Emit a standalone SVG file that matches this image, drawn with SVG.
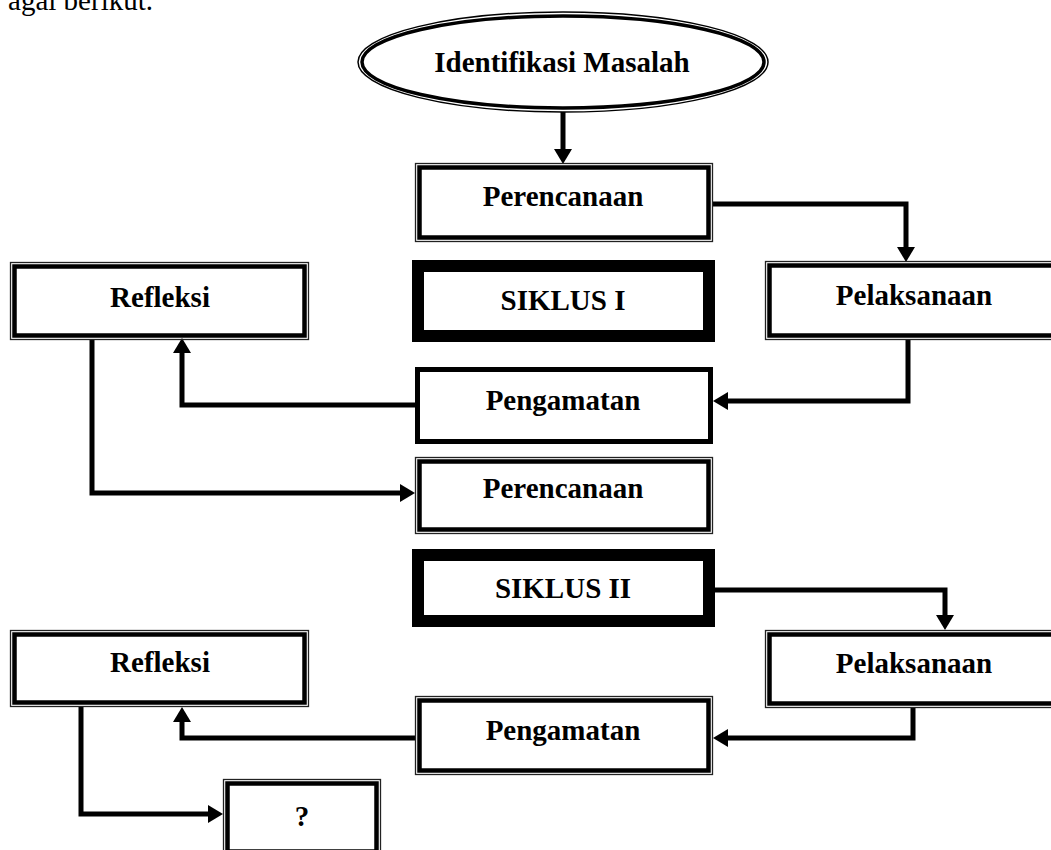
<svg xmlns="http://www.w3.org/2000/svg" width="1051" height="850" viewBox="0 0 1051 850">
<style>
.t{font-family:"Liberation Serif","Times New Roman",serif;font-weight:bold;font-size:29px;text-anchor:middle;fill:#000}
.o{fill:none;stroke:#222;stroke-width:1.3}
.i{fill:#fff;stroke:#000;stroke-width:4.5}
.k{fill:#fff;stroke:#000;stroke-width:5}
.s{fill:#fff;stroke:#000;stroke-width:12}
.c{fill:none;stroke:#000;stroke-width:5;stroke-linejoin:miter;marker-end:url(#ah)}
</style>
<defs>
<marker id="ah" markerUnits="userSpaceOnUse" markerWidth="16" markerHeight="18" refX="0" refY="9" orient="auto" overflow="visible">
<path d="M0,0 L15,9 L0,18 z" fill="#000"/>
</marker>
</defs>
<rect width="1051" height="850" fill="#fff"/>
<text x="153" y="10" style="font-family:'Liberation Serif','Times New Roman',serif;font-size:29px;text-anchor:end">agai berikut.</text>

<g id="connectors">
<path class="c" d="M563,112 V149"/>
<path class="c" d="M713,204 H906 V247"/>
<path class="c" d="M908,340 V401 H728"/>
<path class="c" d="M415,405 H182 V353"/>
<path class="c" d="M92,340 V493 H400"/>
<path class="c" d="M715,590 H945 V615"/>
<path class="c" d="M913,708 V738 H728"/>
<path class="c" d="M415,738 H182 V722"/>
<path class="c" d="M81,707 V814 H208"/>
</g>

<g id="identifikasi">
<ellipse cx="563" cy="62" rx="205" ry="50" fill="#fff" stroke="#000" stroke-width="1.5"/>
<ellipse cx="563" cy="62" rx="201" ry="46" fill="#fff" stroke="#000" stroke-width="3.5"/>
<text class="t" x="562" y="72">Identifikasi Masalah</text>
</g>

<g id="perencanaan1">
<rect class="o" x="415.5" y="163.5" width="297" height="78"/>
<rect class="i" x="419.5" y="167.5" width="289" height="70"/>
<text class="t" x="563" y="206">Perencanaan</text>
</g>

<g id="refleksi1">
<rect class="o" x="10.5" y="262.5" width="298" height="77"/>
<rect class="i" x="14.5" y="266.5" width="290" height="69"/>
<text class="t" x="160" y="307">Refleksi</text>
</g>

<g id="siklus1">
<rect class="s" x="418" y="266" width="291" height="70"/>
<text class="t" x="563" y="310">SIKLUS I</text>
</g>

<g id="pelaksanaan1">
<rect class="o" x="765.5" y="261.5" width="298" height="78"/>
<rect class="i" x="769.5" y="265.5" width="290" height="70"/>
<text class="t" x="914" y="305">Pelaksanaan</text>
</g>

<g id="pengamatan1">
<rect class="k" x="417.5" y="369.5" width="293" height="72"/>
<text class="t" x="563" y="410">Pengamatan</text>
</g>

<g id="perencanaan2">
<rect class="o" x="415.5" y="457.5" width="297" height="76"/>
<rect class="i" x="419.5" y="461.5" width="289" height="68"/>
<text class="t" x="563" y="498">Perencanaan</text>
</g>

<g id="siklus2">
<rect class="s" x="418" y="555" width="291" height="66"/>
<text class="t" x="563" y="598">SIKLUS II</text>
</g>

<g id="pelaksanaan2">
<rect class="o" x="765.5" y="630.5" width="298" height="77"/>
<rect class="i" x="769.5" y="634.5" width="290" height="69"/>
<text class="t" x="914" y="673">Pelaksanaan</text>
</g>

<g id="refleksi2">
<rect class="o" x="10.5" y="630.5" width="298" height="76"/>
<rect class="i" x="14.5" y="634.5" width="290" height="68"/>
<text class="t" x="160" y="672">Refleksi</text>
</g>

<g id="pengamatan2">
<rect class="o" x="415.5" y="696.5" width="297" height="78"/>
<rect class="i" x="419.5" y="700.5" width="289" height="70"/>
<text class="t" x="563" y="740">Pengamatan</text>
</g>

<g id="tanya">
<rect class="o" x="223.5" y="779.5" width="157" height="76"/>
<rect class="i" x="227.5" y="783.5" width="149" height="68"/>
<text class="t" x="302" y="826">?</text>
</g>
</svg>
